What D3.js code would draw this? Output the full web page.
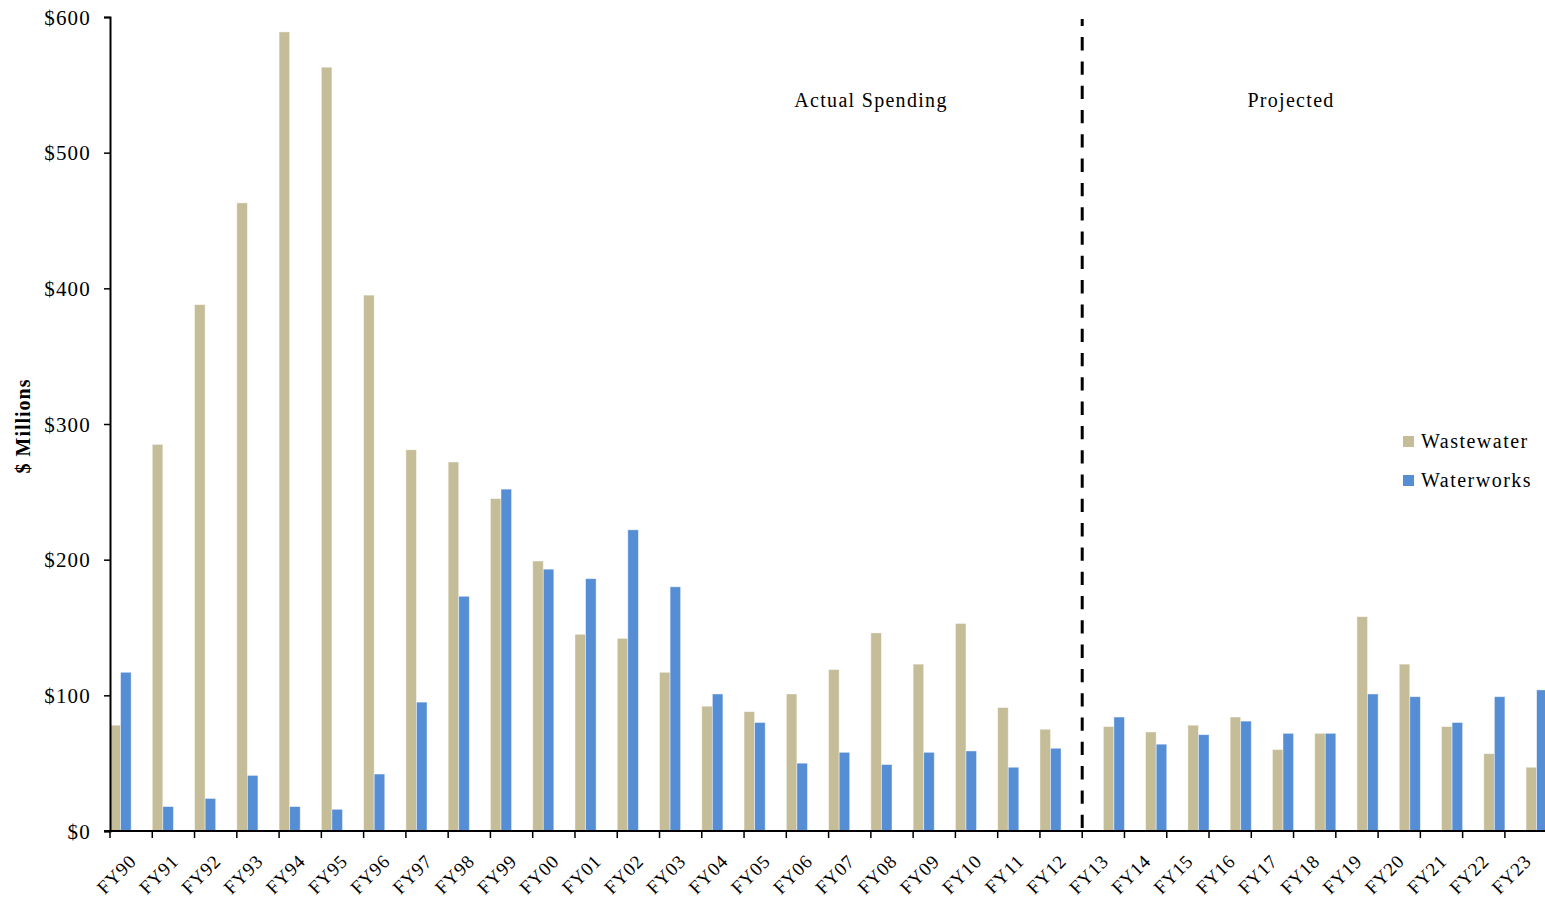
<!DOCTYPE html>
<html>
<head>
<meta charset="utf-8">
<script src="https://cdn.jsdelivr.net/npm/d3@7"></script>
<style>
  html, body { margin: 0; padding: 0; background: #fff; }
  svg { display: block; font-family: "Liberation Serif", "Times New Roman", serif; }
</style>
</head>
<body>
<svg id="chart" width="1545" height="899"></svg>
<script>
const categories = ["FY90","FY91","FY92","FY93","FY94","FY95","FY96","FY97","FY98","FY99",
  "FY00","FY01","FY02","FY03","FY04","FY05","FY06","FY07","FY08","FY09","FY10","FY11","FY12",
  "FY13","FY14","FY15","FY16","FY17","FY18","FY19","FY20","FY21","FY22","FY23"];
const wastewater = [78,285,388,463,589,563,395,281,272,245,199,145,142,117,92,88,101,119,146,123,153,91,75,
  77,73,78,84,60,72,158,123,77,57,47];
const waterworks = [117,18,24,41,18,16,42,95,173,252,193,186,222,180,101,80,50,58,49,58,59,47,61,
  84,64,71,81,72,72,101,99,80,99,104];
const seriesNames = ["Wastewater", "Waterworks"];
const seriesColors = ["#C4BD97", "#558ED5"];
const firstProjected = "FY13";
const yTicks = [0,100,200,300,400,500,600];
const periodLabels = ["Actual Spending", "Projected"];
const yTitle = "$ Millions";

(function () {
const svg = d3.select("#chart");
const mLeft = 110, mBottom = 831, mTop = 17;
const step = 42.27;

const x = d3.scaleBand().domain(categories).range([mLeft, mLeft + step * categories.length]).padding(0);
const y = d3.scaleLinear().domain([0, 600]).range([mBottom, mTop]);
const slot = d3.scaleBand().domain([0,1,2,3]).range([0, x.bandwidth()]).padding(0);
const projIdx = categories.indexOf(firstProjected);

// bars
const rows = categories.map((c, i) => ({c, i, w: wastewater[i], k: waterworks[i]}));
const g = svg.append("g");
["w", "k"].forEach((key, s) => {
  g.append("g").selectAll("rect").data(rows).join("rect")
    .attr("x", d => x(d.c) + slot((d.i >= projIdx ? 2 : 0) + s))
    .attr("width", slot.bandwidth())
    .attr("y", d => y(d[key]))
    .attr("height", d => y(0) - y(d[key]))
    .attr("fill", seriesColors[s])
    .attr("stroke", "rgba(255,255,255,0.55)")
    .attr("stroke-width", 0.8);
});

// y axis
const yAxis = d3.axisLeft(y).tickValues(yTicks).tickSize(6).tickFormat(d => "$" + d);
const ya = svg.append("g").attr("transform", `translate(${mLeft},0)`).call(yAxis);
ya.select(".domain").attr("stroke", "#000").attr("stroke-width", 2);
ya.selectAll(".tick line").attr("stroke", "#000").attr("stroke-width", 1.5);
ya.selectAll(".tick text").attr("font-size", 21).attr("letter-spacing", "1.2px")
  .attr("font-family", "Liberation Serif").attr("fill", "#000").attr("x", -19).attr("dy", "0.34em");

// x axis line
svg.append("line").attr("x1", mLeft - 6).attr("x2", 1545).attr("y1", mBottom).attr("y2", mBottom)
  .attr("stroke", "#000").attr("stroke-width", 2);
// x ticks at category boundaries
svg.append("g").selectAll("line").data(categories).join("line")
  .attr("x1", d => x(d)).attr("x2", d => x(d))
  .attr("y1", mBottom).attr("y2", mBottom + 7)
  .attr("stroke", "#000").attr("stroke-width", 1.5);
// x labels
svg.append("g").selectAll("text").data(categories).join("text")
  .attr("transform", d => `translate(${x(d) + x.bandwidth() / 2 - 3},${mBottom + 22}) rotate(-45)`)
  .attr("text-anchor", "end").attr("dy", "0.7em")
  .attr("font-size", 19).attr("letter-spacing", "0.8px").attr("fill", "#000")
  .text(d => d);

// dashed divider
svg.append("line").attr("x1", x(firstProjected)).attr("x2", x(firstProjected))
  .attr("y1", 828).attr("y2", 19)
  .attr("stroke", "#000").attr("stroke-width", 3).attr("stroke-dasharray", "13.3,11");

// period labels
svg.append("text").attr("x", 871).attr("y", 107).attr("text-anchor", "middle")
  .attr("font-size", 20).attr("letter-spacing", "1.3px").text(periodLabels[0]);
svg.append("text").attr("x", 1291).attr("y", 107).attr("text-anchor", "middle")
  .attr("font-size", 20).attr("letter-spacing", "1.3px").text(periodLabels[1]);

// y title
svg.append("text").attr("transform", "translate(30,426) rotate(-90)")
  .attr("text-anchor", "middle").attr("font-weight", "bold")
  .attr("font-size", 20).attr("letter-spacing", "1px").text(yTitle);

// legend
const lg = svg.append("g");
seriesNames.forEach((n, i) => {
  const ly = 436 + i * 39;
  lg.append("rect").attr("x", 1403).attr("y", ly).attr("width", 11).attr("height", 11)
    .attr("fill", seriesColors[i]);
  lg.append("text").attr("x", 1421).attr("y", ly + 12).attr("font-size", 20)
    .attr("letter-spacing", "1.5px").text(n);
});
})();
</script>
</body>
</html>
